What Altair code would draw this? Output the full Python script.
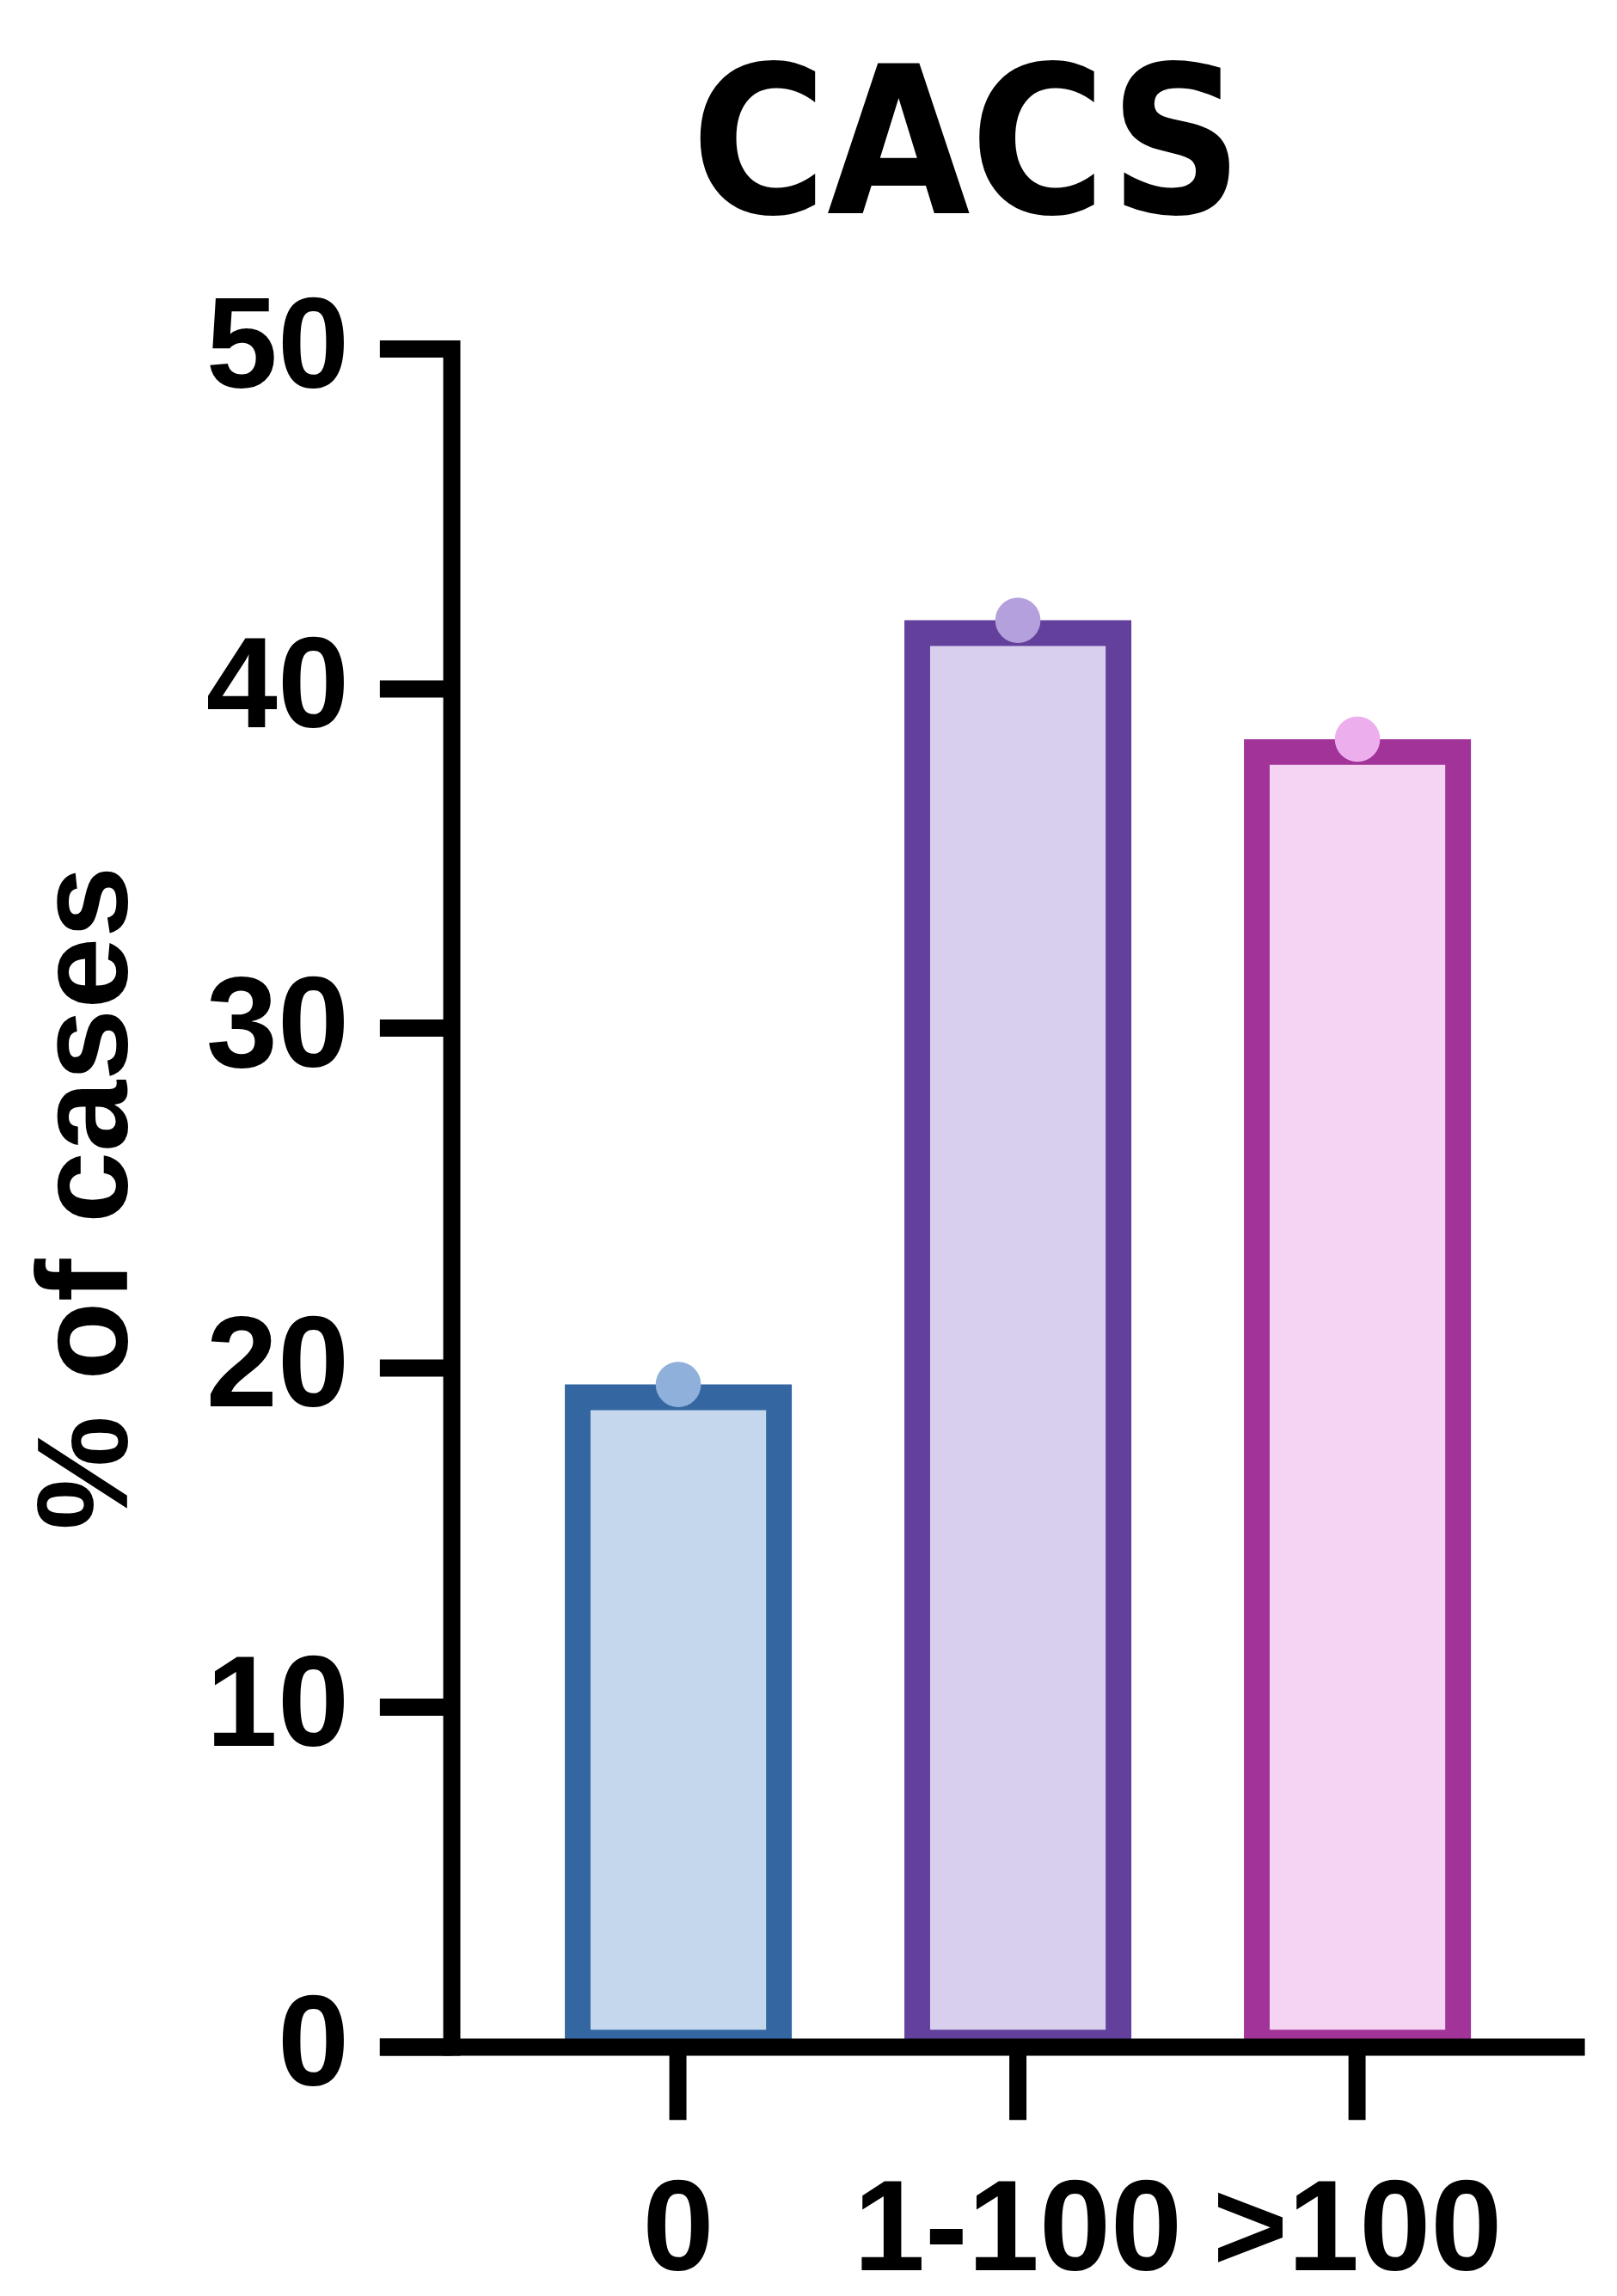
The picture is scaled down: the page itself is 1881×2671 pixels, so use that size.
import altair as alt
import pandas as pd

categories = ["0", "1-100", ">100"]
values = [19.5, 42.0, 38.5]
stroke_colors = ["#3467A2", "#62409C", "#A23399"]
fill_colors = ["#C5D7EC", "#D8CFEC", "#F5D3F3"]
dot_colors = ["#8EB0DA", "#B4A0DC", "#EDAEEE"]
y_ticks = [0, 10, 20, 30, 40, 50]
title_text = ["CACS"]
y_title = "% of cases"

df = pd.DataFrame({
    "cat": categories,
    "value": values,
    "stroke": stroke_colors,
    "fill": fill_colors,
    "dot": dot_colors,
})

LABEL_FONT = "Liberation Sans"
TITLE_FONT = "Noto Sans ExtraCondensed, Noto Sans Condensed, DejaVu Sans Condensed, Liberation Sans Narrow, Liberation Sans"

x_enc = alt.X(
    "cat:N",
    sort=categories,
    scale=alt.Scale(domain=categories, paddingInner=0, paddingOuter=0.2743, align=0.693, round=False),
    axis=alt.Axis(
        title=None, labelAngle=0, labelFont=LABEL_FONT, labelFontSize=150, labelFontWeight="bold",
        labelColor="black", labelPadding=56, labelLimit=2000, domainColor="black", domainWidth=20,
        domainCap="butt", tickColor="black", tickWidth=20, tickSize=85, tickCap="butt",
        grid=False, zindex=1,
    ),
)
y_scale = alt.Scale(domain=[0, 50], nice=False, zero=True)

bars = alt.Chart(df).mark_bar(size=235, strokeWidth=30, yOffset=15, y2Offset=-5, strokeJoin="miter").encode(
    x=x_enc,
    y=alt.Y(
        "value:Q",
        scale=y_scale,
        axis=alt.Axis(
            values=y_ticks, title=y_title, titleFont=LABEL_FONT, titleFontSize=150,
            titleFontWeight="bold", titleColor="black", titlePadding=148,
            labelFont=LABEL_FONT, labelFontSize=150, labelFontWeight="bold", labelColor="black",
            labelPadding=36, labelFlush=False, labelOverlap=False, labelLimit=2000,
            domainColor="black", domainWidth=20, domainCap="square",
            tickColor="black", tickWidth=20, tickSize=84, tickCap="butt",
            offset=-84, grid=False, zindex=1,
        ),
    ),
    y2=alt.datum(0),
    fill=alt.Fill("fill:N", scale=None),
    stroke=alt.Stroke("stroke:N", scale=None),
)

dots = alt.Chart(df).mark_circle(size=2800, opacity=1).encode(
    x=alt.X("cat:N", sort=categories),
    y=alt.Y("value:Q", scale=y_scale),
    color=alt.Color("dot:N", scale=None),
)

title = alt.Chart(pd.DataFrame({"t": title_text})).mark_text(
    font=TITLE_FONT, fontSize=240, fontWeight="bold", color="black",
    align="center", baseline="alphabetic",
).encode(
    text="t:N",
    x=alt.value(686),
    y=alt.value(-158),
)

chart = alt.layer(bars, dots, title).properties(
    width=1407,
    height=1983,
    autosize=alt.AutoSizeParams(type="none"),
    padding={"left": 435, "top": 394, "right": 30, "bottom": 278},
).configure_view(stroke=None)

chart.save("out.html", embed_options={"renderer": "svg", "actions": False})
